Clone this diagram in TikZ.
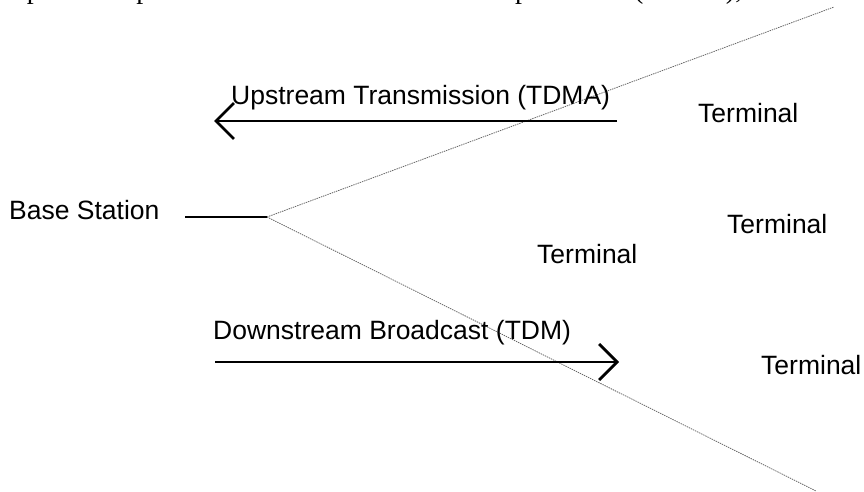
\documentclass[tikz,border=0pt]{standalone}
\usepackage{fontspec}
\setmainfont{Liberation Sans}
\newfontfamily\serifpage{Liberation Serif}
\usetikzlibrary{arrows.meta}
\tikzset{
  lbl/.style={anchor=base west, inner sep=0pt, font=\fontsize{26.5}{31}\selectfont},
  toptext/.style={inner sep=0pt, font=\serifpage\fontsize{28}{32}\selectfont},
  fiber/.style={draw=black!60, line width=0.8pt, dash pattern=on 1.4pt off 0.9pt},
  feeder/.style={draw=black, line width=2.2pt},
  flow/.style={draw=black, line width=2.8pt, -{Straight Barb[length=18pt,width=36pt]}}
}
\begin{document}
\begin{tikzpicture}[x=1pt,y=-1pt]
\useasboundingbox (0,0) rectangle (864,492);
\clip (0,0) rectangle (864,492);
% cut-off line of page text at top
\node[toptext, anchor=base west] (pageR) at (634,-1.2) {(TDMA), such as};
\node[toptext, anchor=base east] (pageL) at (628,-1.2) {of the upstream optical channel time-division multiple access};
% coordinates
\coordinate (hub) at (267,217);
\coordinate (feed) at (185,217);
\coordinate (topend) at (834,7);
\coordinate (botend) at (816,491);
\coordinate (upS) at (617,121);
\coordinate (upE) at (214,121);
\coordinate (dnS) at (215,362);
\coordinate (dnE) at (619,362);
% fibers
\draw[fiber] (hub) -- (topend);
\draw[fiber] (hub) -- (botend);
\draw[feeder] (feed) -- (hub);
% arrows
\draw[flow] (upS) -- (upE);
\draw[flow] (dnS) -- (dnE);
% labels
\node[lbl] (bs) at (9,219) {Base Station};
\node[lbl] (up) at (231,105) {Upstream Transmission (TDMA)};
\node[lbl] (down) at (213,339) {Downstream Broadcast (TDM)};
\node[lbl] (t1) at (698,123) {Terminal};
\node[lbl] (t2) at (727,233) {Terminal};
\node[lbl] (t3) at (537,263) {Terminal};
\node[lbl] (t4) at (761,374) {Terminal};
\end{tikzpicture}
\end{document}
